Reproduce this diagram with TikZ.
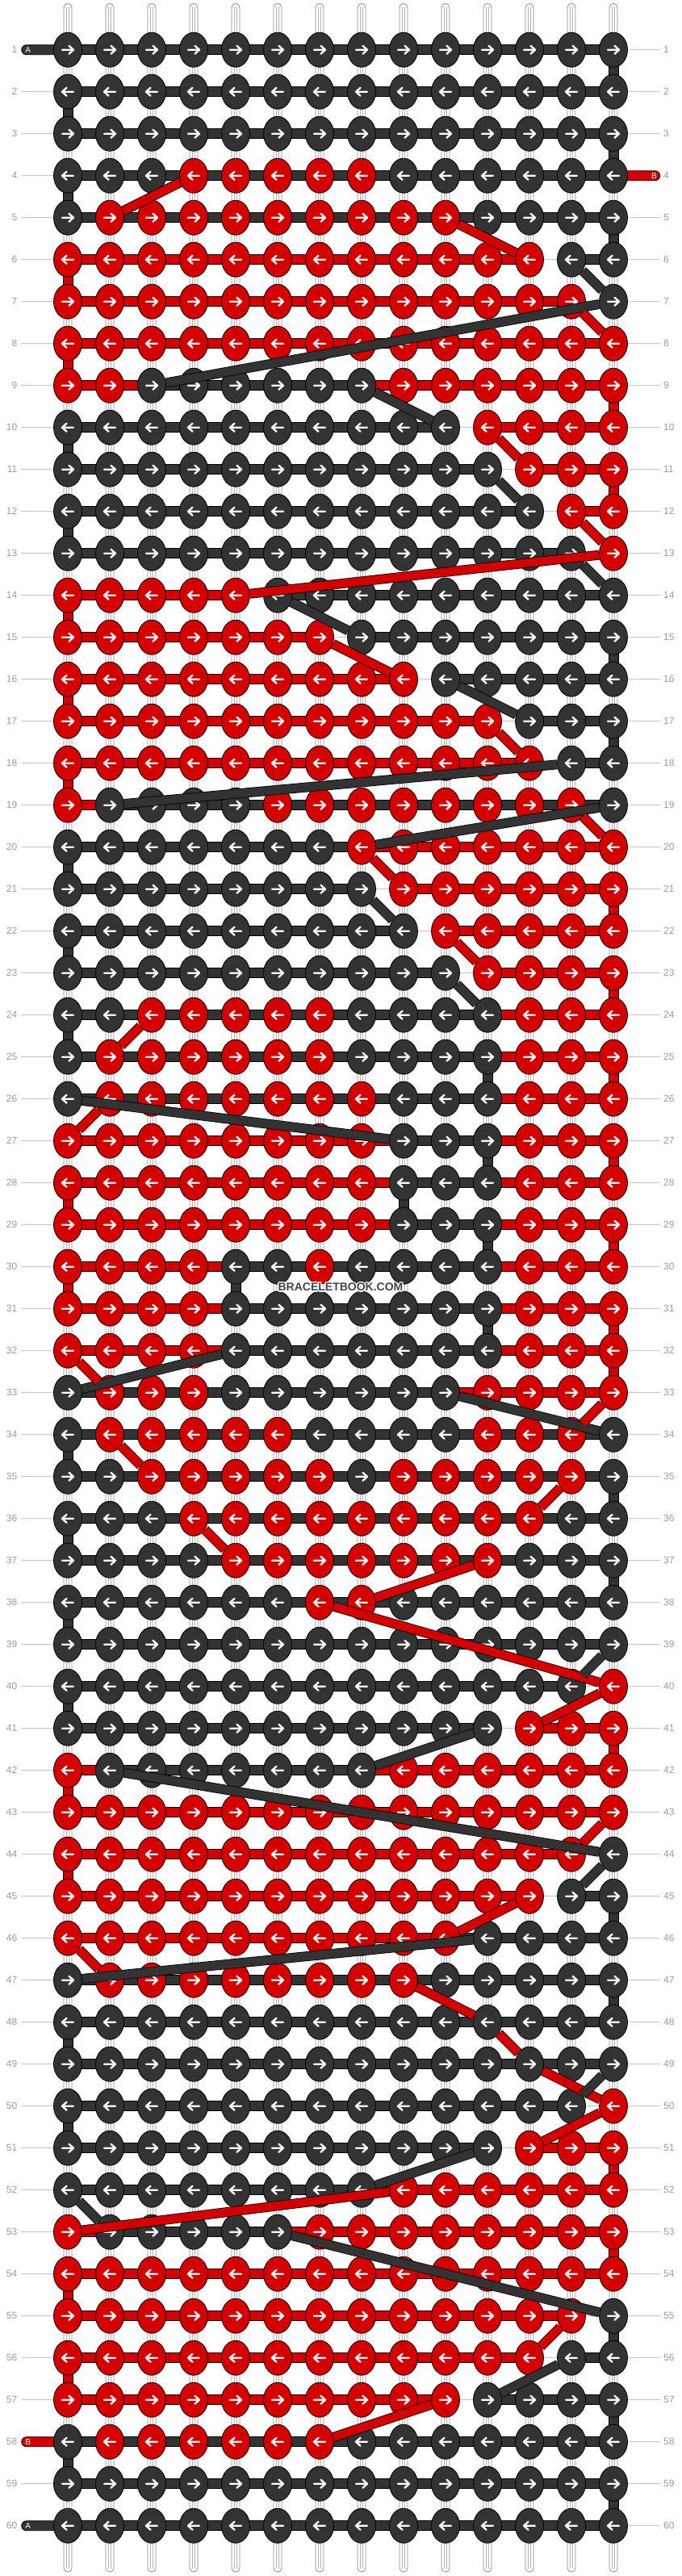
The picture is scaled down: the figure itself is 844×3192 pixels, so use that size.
\documentclass[tikz,border=0pt]{standalone}
\usepackage{fontspec}
\newfontfamily\lab{Liberation Sans}
\usetikzlibrary{shapes.geometric}
\definecolor{dk}{HTML}{333333}
\definecolor{rd}{HTML}{D40000}
\definecolor{lblgray}{HTML}{9A9A9A}
\definecolor{guidegray}{HTML}{C4C4C4}
\definecolor{tubeedge}{HTML}{8A8A8A}
\definecolor{tubeinner}{HTML}{B4B4B4}
\definecolor{wmgray}{HTML}{454545}
\newcount\kc
\def\kcolD{dk}\def\kcolR{rd}\def\kcold{dk}\def\kcolr{rd}
\def\barloop#1{\ifx#1\relax\else\global\advance\kc by 1 \drawbar{#1}\expandafter\barloop\fi}
\def\drawbar#1{\if#10\else\edef\bcol{\csname kcol#1\endcsname}\pgfmathsetmacro\bx{84+52*(\the\kc-1)}\filldraw[barline,fill=\bcol] (\bx,\ky-6) rectangle (\bx+52,\ky+6);\fi}
\def\knotloop#1{\ifx#1\relax\else\global\advance\kc by 1 \drawknot{#1}\expandafter\knotloop\fi}
\def\drawknot#1{\edef\kcol{\csname kcol#1\endcsname}\pgfmathsetmacro\kx{84+52*(\the\kc-1)}\edef\kname{k\rw-\the\kc}\node[knot,fill=\kcol] (\kname) at (\kx,\ky) {};\draw[arr,shift={(\kx,\ky)},xscale=\dir] (-7,0) -- (6.5,0) (1.5,5) -- (7,0) -- (1.5,-5);}
\def\rowsdata{1/DDDDDDDDDDDDDD/ddddddddddddd,
2/DDDDDDDDDDDDDD/ddddddddddddd,
3/DDDDDDDDDDDDDD/ddddddddddddd,
4/DDDRRRRRDDDDDD/ddddddddddddd,
5/DRRRRRRRRRDDDD/ddddddddddddd,
6/RRRRRRRRRRRRDD/rrrrrrrrrrr0d,
7/RRRRRRRRRRRRRD/rrrrrrrrrrrr0,
8/RRRRRRRRRRRRRR/rrrrrrrrrrrrr,
9/RRDDDDDDRRRRRR/rrdddddrrrrrr,
10/DDDDDDDDDDRRRR/ddddddddd0rrr,
11/DDDDDDDDDDDRRR/dddddddddd0rr,
12/DDDDDDDDDDDDRR/ddddddddddd0r,
13/DDDDDDDDDDDDDR/dddddddddddd0,
14/RRRRRDDDDDDDDD/rrrr0dddddddd,
15/RRRRRRRDDDDDDD/rrrrrr0dddddd,
16/RRRRRRRRRDDDDD/rrrrrrrr0dddd,
17/RRRRRRRRRRRDDD/rrrrrrrrrr0dd,
18/RRRRRRRRRRRRDD/rrrrrrrrrrr0d,
19/RDDDDRRRRRRRRD/rdddddddddddd,
20/DDDDDDDRRRRRRR/dddddddrrrrrr,
21/DDDDDDDDRRRRRR/ddddddd0rrrrr,
22/DDDDDDDDDRRRRR/dddddddd0rrrr,
23/DDDDDDDDDDRRRR/ddddddddd0rrr,
24/DDRRRRRDDDDRRR/ddddddddddrrr,
25/DRRRRRRDDDDRRR/ddddddddddrrr,
26/DRRRRRRRDDDRRR/ddddddddddrrr,
27/RRRRRRRRDDDRRR/rrrrrrrrddrrr,
28/RRRRRRRRDDDRRR/rrrrrrrrddrrr,
29/RRRRRRRRDDDRRR/rrrrrrrrddrrr,
30/RRRRDDRDDDDRRR/rrrrddddddrrr,
31/RRRRDDDDDDDRRR/rrrrddddddrrr,
32/RRRRDDDDDDDRRR/rrrrddddddrrr,
33/DRRRDDDDDDRRRR/dddddddddrrrr,
34/DRRRRRDDDDRRRD/ddddddddddddd,
35/DDRRRRRDRRRRRD/ddddddddddddd,
36/DDDRRRRRRRRRDD/ddddddddddddd,
37/DDDDRRRRRRRDDD/ddddddddddddd,
38/DDDDDDRRDDDDDD/ddddddddddddd,
39/DDDDDDDDDDDDDD/ddddddddddddd,
40/DDDDDDDDDDDDDR/dddddddddddd0,
41/DDDDDDDDDDDRRR/dddddddddd0rr,
42/RDDDDDDDRRRRRR/rddddddrrrrrr,
43/RRRRRRRRRRRRRR/rrrrrrrrrrrrr,
44/RRRRRRRRRRRRRD/rrrrrrrrrrrr0,
45/RRRRRRRRRRRRDD/rrrrrrrrrrr0d,
46/RRRRRRRRRRDDDD/rrrrrrrrrdddd,
47/DRRRRRRRRDDDDD/ddddddddddddd,
48/DDDDDDDDDDDDDD/ddddddddddddd,
49/DDDDDDDDDDDDDD/ddddddddddddd,
50/DDDDDDDDDDDDDR/dddddddddddd0,
51/DDDDDDDDDDDRRR/dddddddddd0rr,
52/DDDDDDDDRRRRRR/dddddddrrrrrr,
53/RDDDDDRRRRRRRR/rddddrrrrrrrr,
54/RRRRRRRRRRRRRR/rrrrrrrrrrrrr,
55/RRRRRRRRRRRRRD/rrrrrrrrrrrr0,
56/RRRRRRRRRRRRDD/rrrrrrrrrrr0d,
57/RRRRRRRRRRDDDD/rrrrrrrrr0ddd,
58/DRRRRRRDDDDDDD/ddddddddddddd,
59/DDDDDDDDDDDDDD/ddddddddddddd,
60/DDDDDDDDDDDDDD/ddddddddddddd}
\begin{document}
\begin{tikzpicture}[x=1pt,y=1pt,
  knot/.style={ellipse,draw=black,line width=0.8pt,minimum width=35pt,minimum height=43pt,inner sep=0pt},
  arr/.style={draw=white,line width=2.3pt,line cap=round,line join=round},
  barline/.style={draw=black,line width=0.8pt},
  diag/.style={draw=black,line width=0.8pt,double distance=10.4pt},
  tube/.style={draw=tubeedge,fill=white,line width=0.8pt},
  tubeline/.style={draw=tubeinner,line width=0.6pt},
  guide/.style={draw=guidegray,line width=1pt},
  lbl/.style={font=\lab\fontsize{12}{12}\selectfont,text=lblgray,inner sep=0pt},
  strlbl/.style={font=\lab\fontsize{10}{10}\selectfont,text=white,inner sep=0pt},
  wm/.style={font=\lab\bfseries\fontsize{14}{14}\selectfont,inner sep=0pt}]
\fill[white] (0,0) rectangle (844,-3192);
\useasboundingbox (0,0) rectangle (844,-3192);
% vertical background strings
\foreach \cl in {1,...,14}{
  \pgfmathsetmacro\tx{84+52*(\cl-1)}
  \draw[tube] (\tx-5,-3182) -- (\tx-5,-9.3) arc[start angle=180,end angle=0,radius=5pt] -- (\tx+5,-3182) arc[start angle=0,end angle=-180,radius=5pt] -- cycle;
  \draw[tubeline] (\tx-1.3,-8) -- (\tx-1.3,-3183) (\tx+1.3,-8) -- (\tx+1.3,-3183);
}
% row guide lines
\foreach \rw in {1,...,60}{
  \pgfmathsetmacro\ky{-61.7-52*(\rw-1)}
  \draw[guide] (26,\ky) -- (818,\ky);
}
% turning segments between rows
\foreach \rw/\cl/\col in {1/14/dk,2/1/dk,3/14/dk,4/1/dk,5/14/dk,6/1/rd,8/1/rd,9/14/rd,10/1/dk,11/14/rd,12/1/dk,14/1/rd,15/14/dk,16/1/rd,17/14/dk,18/1/rd,20/1/dk,21/14/rd,22/1/dk,23/14/rd,24/1/dk,25/11/dk,25/14/rd,27/11/dk,27/14/rd,28/1/rd,28/9/dk,29/11/dk,29/14/rd,30/1/rd,30/5/dk,31/11/dk,31/14/rd,32/14/rd,34/1/dk,35/14/dk,36/1/dk,37/14/dk,38/1/dk,40/1/dk,41/14/rd,42/1/rd,44/1/rd,45/14/dk,47/14/dk,48/1/dk,50/1/dk,51/14/rd,53/14/rd,54/1/rd,55/14/dk,56/1/rd,57/14/dk,58/1/dk,59/14/dk}{
  \pgfmathsetmacro\vx{84+52*(\cl-1)}
  \pgfmathsetmacro\vy{-61.7-52*(\rw-1)}
  \filldraw[barline,fill=\col] (\vx-6,\vy) rectangle (\vx+6,\vy-52);
}
% horizontal segments
\foreach \rw/\kn/\bn in \rowsdata {
  \pgfmathsetmacro\ky{-61.7-52*(\rw-1)}
  \global\kc=0
  \expandafter\barloop\bn\relax
}
% string ends
\filldraw[barline,fill=dk] (84,-55.7) -- (32.7,-55.7) arc[start angle=90,end angle=270,radius=6pt] -- (84,-67.7) -- cycle;
\filldraw[barline,fill=dk] (84,-3123.7) -- (32.7,-3123.7) arc[start angle=90,end angle=270,radius=6pt] -- (84,-3135.7) -- cycle;
\filldraw[barline,fill=rd] (84,-3019.7) -- (32.7,-3019.7) arc[start angle=90,end angle=270,radius=6pt] -- (84,-3031.7) -- cycle;
\filldraw[barline,fill=rd] (760,-211.7) -- (811.7,-211.7) arc[start angle=90,end angle=-90,radius=6pt] -- (760,-223.7) -- cycle;
\node[strlbl] (sa1) at (34.7,-61.7) {A};
\node[strlbl] (sa60) at (34.7,-3129.7) {A};
\node[strlbl] (sb58) at (34.7,-3025.7) {B};
\node[strlbl] (sb4) at (810.5,-217.7) {B};
% knots
\foreach \rw/\kn/\bn in \rowsdata {
  \pgfmathsetmacro\ky{-61.7-52*(\rw-1)}
  \ifodd\rw\relax\def\dir{1}\else\def\dir{-1}\fi
  \global\kc=0
  \expandafter\knotloop\kn\relax
}
% diagonal links
\foreach \ra/\ca/\rb/\cb/\col in {4/4/5/2/rd,5/10/6/12/rd,6/13/7/14/dk,7/14/9/3/dk,7/13/8/14/rd,9/8/10/10/dk,10/11/11/12/rd,11/11/12/12/dk,12/13/13/14/rd,13/14/14/5/rd,13/13/14/14/dk,14/6/15/8/dk,15/7/16/9/rd,16/10/17/12/dk,17/11/18/12/rd,18/13/19/2/dk,19/14/20/8/dk,19/13/20/14/rd,20/8/21/9/rd,21/8/22/9/dk,22/10/23/11/rd,23/10/24/11/dk,24/3/25/2/rd,26/1/27/9/dk,26/2/27/1/rd,32/5/33/1/dk,32/1/33/2/rd,33/10/34/14/dk,33/14/34/13/rd,34/2/35/3/rd,35/13/36/12/rd,36/4/37/5/rd,37/11/38/8/rd,38/7/40/14/rd,39/14/40/13/dk,40/14/41/12/rd,41/11/42/8/dk,42/2/44/14/dk,43/14/44/13/rd,44/14/45/13/dk,45/12/46/10/rd,46/11/47/1/dk,46/1/47/2/rd,47/9/48/11/rd,48/11/49/12/rd,49/12/50/14/rd,49/14/50/13/dk,50/14/51/12/rd,51/11/52/8/dk,52/1/53/2/dk,52/9/53/1/rd,53/6/55/14/dk,55/13/56/12/rd,56/13/57/11/dk,57/10/58/7/rd}{
  \draw[diag,double=\col] (k\ra-\ca) -- (k\rb-\cb);
}
% row numbers
\foreach \rw in {1,...,60}{
  \pgfmathsetmacro\ky{-61.7-52*(\rw-1)}
  \node[lbl,anchor=east] (ll\rw) at (21.5,\ky) {\rw};
  \node[lbl,anchor=west] (rl\rw) at (822,\ky) {\rw};
}
% watermark
\foreach \dx/\dy [count=\i] in {-1.2/0,1.2/0,0/-1.2,0/1.2,-0.9/-0.9,0.9/0.9,-0.9/0.9,0.9/-0.9}{
  \node[wm,text=white] (wmh\i) at (422+\dx,-1595+\dy) {BRACELETBOOK.COM};
}
\node[wm,text=wmgray] (wm) at (422,-1595) {BRACELETBOOK.COM};
\end{tikzpicture}
\end{document}
